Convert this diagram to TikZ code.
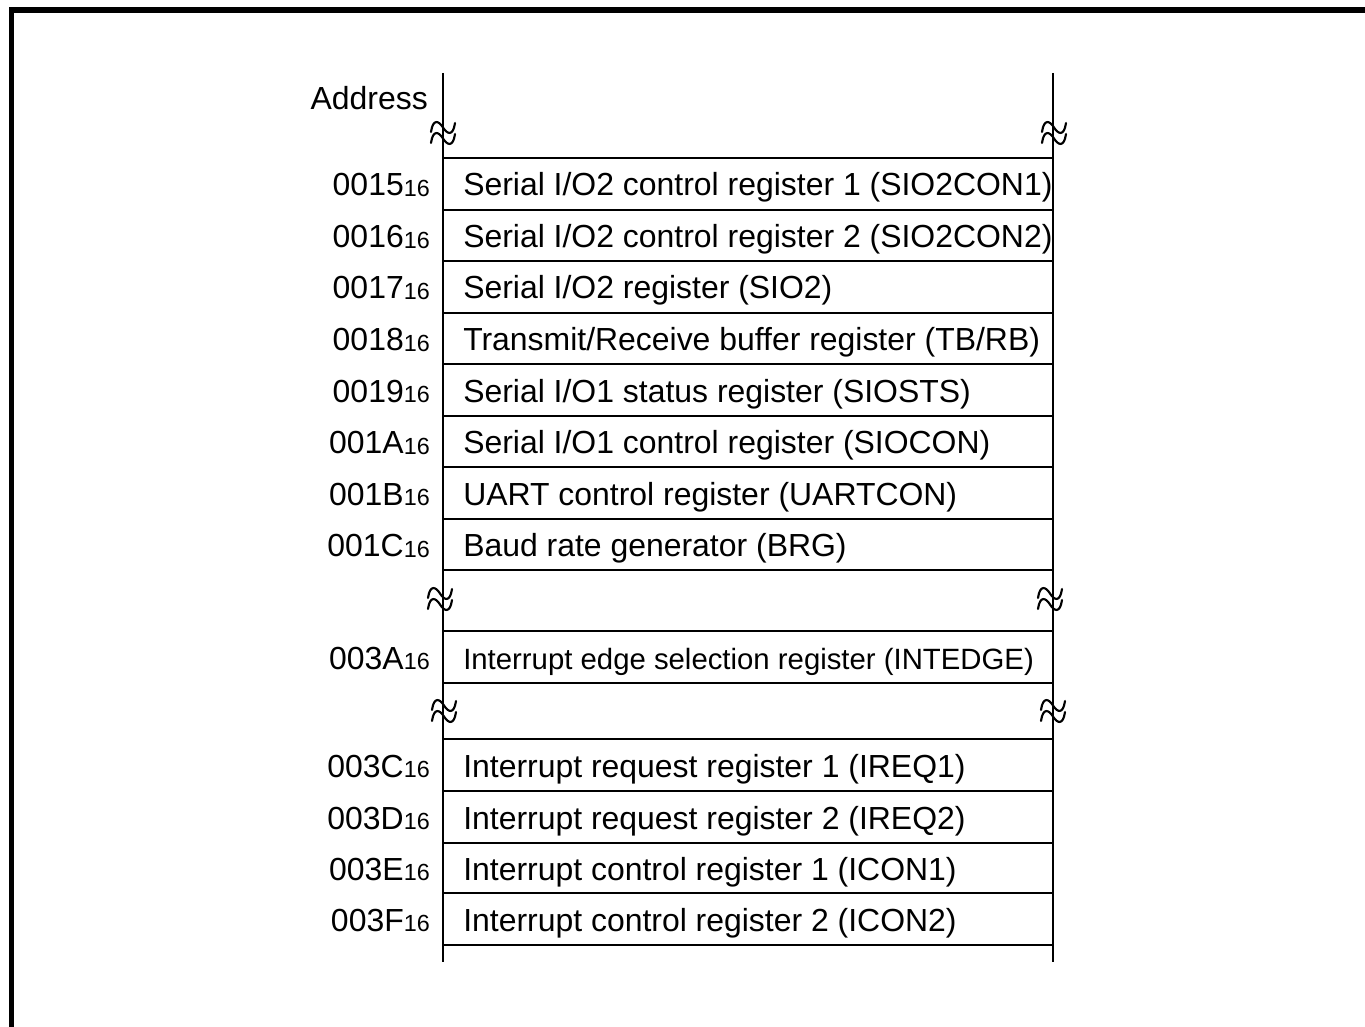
\documentclass[tikz,border=0pt]{standalone}
\usepackage{fontspec}
\setmainfont{Liberation Sans}
\newcommand\mainsz{\fontsize{23.95}{26}\selectfont}
\newcommand\smallsz{\fontsize{22.0}{24}\selectfont}
\newcommand\hx[1]{#1{\fontsize{17.5}{18}\selectfont\raisebox{-0.6pt}{16}}}
\tikzset{
  x=0.75pt, y=-0.75pt,
  frameline/.style={line width=3.9pt},
  vline/.style={line width=2pt},
  boxline/.style={line width=2pt},
  tline/.style={line width=1.6pt, line cap=round},
  regtext/.style={font=\mainsz, inner sep=0pt, anchor=base west},
  smalltext/.style={font=\smallsz, inner sep=0pt, anchor=base west},
  addrtext/.style={font=\mainsz, inner sep=0pt, anchor=base east}
}
% #1 name, #2 top, #3 bottom, #4 address, #5 text style, #6 text
\newcommand\regrow[6]{%
  \draw[boxline] (443,#2) rectangle (1053,#3);
  \node[#5] (#1) at (463,{(#2+#3)/2+12}) {#6};
  \node[addrtext] (#1a) at (430,{(#2+#3)/2+12}) {\hx{#4}};
}
% tilde pair centred at (#1,#2)
\newcommand\brkmark[2]{%
  \begin{scope}[shift={(#1,#2)}]
    \draw[tline] (-12,-1) .. controls (-10,-15) and (-4,-12) .. (0,-5.5) .. controls (4,1) and (10,4) .. (12,-10);
    \draw[tline] (-12,10) .. controls (-10,-4) and (-4,-1) .. (0,5.5) .. controls (4,12) and (10,15) .. (12,1);
  \end{scope}%
}
\begin{document}
\begin{tikzpicture}
\useasboundingbox (0,0) rectangle (1365,1027);
% frame (top and left only)
\draw[frameline] (11.5,1030) -- (11.5,10) -- (1370,10);
% vertical lines
\coordinate (LT) at (443,73);
\coordinate (LB) at (443,962);
\coordinate (RT) at (1053,73);
\coordinate (RB) at (1053,962);
\draw[vline] (LT) -- (LB);
\draw[vline] (RT) -- (RB);
% header
\node[addrtext] (addr) at (428,110) {Address};
% rows
\regrow{r15}{158}{210}{0015}{regtext}{Serial I/O2 control register 1 (SIO2CON1)}
\regrow{r16}{210}{261}{0016}{regtext}{Serial I/O2 control register 2 (SIO2CON2)}
\regrow{r17}{261}{313}{0017}{regtext}{Serial I/O2 register (SIO2)}
\regrow{r18}{313}{364}{0018}{regtext}{Transmit/Receive buffer register (TB/RB)}
\regrow{r19}{364}{416}{0019}{regtext}{Serial I/O1 status register (SIOSTS)}
\regrow{r1A}{416}{467}{001A}{regtext}{Serial I/O1 control register (SIOCON)}
\regrow{r1B}{467}{519}{001B}{regtext}{UART control register (UARTCON)}
\regrow{r1C}{519}{570}{001C}{regtext}{Baud rate generator (BRG)}
\regrow{r3A}{631}{683}{003A}{smalltext}{Interrupt edge selection register (INTEDGE)}
\regrow{r3C}{739}{791}{003C}{regtext}{Interrupt request register 1 (IREQ1)}
\regrow{r3D}{791}{843}{003D}{regtext}{Interrupt request register 2 (IREQ2)}
\regrow{r3E}{843}{893}{003E}{regtext}{Interrupt control register 1 (ICON1)}
\regrow{r3F}{893}{945}{003F}{regtext}{Interrupt control register 2 (ICON2)}
% break marks
\brkmark{443}{133}
\brkmark{1054}{133}
\brkmark{440}{599}
\brkmark{1050}{599}
\brkmark{444}{711}
\brkmark{1053}{711}
\end{tikzpicture}
\end{document}
